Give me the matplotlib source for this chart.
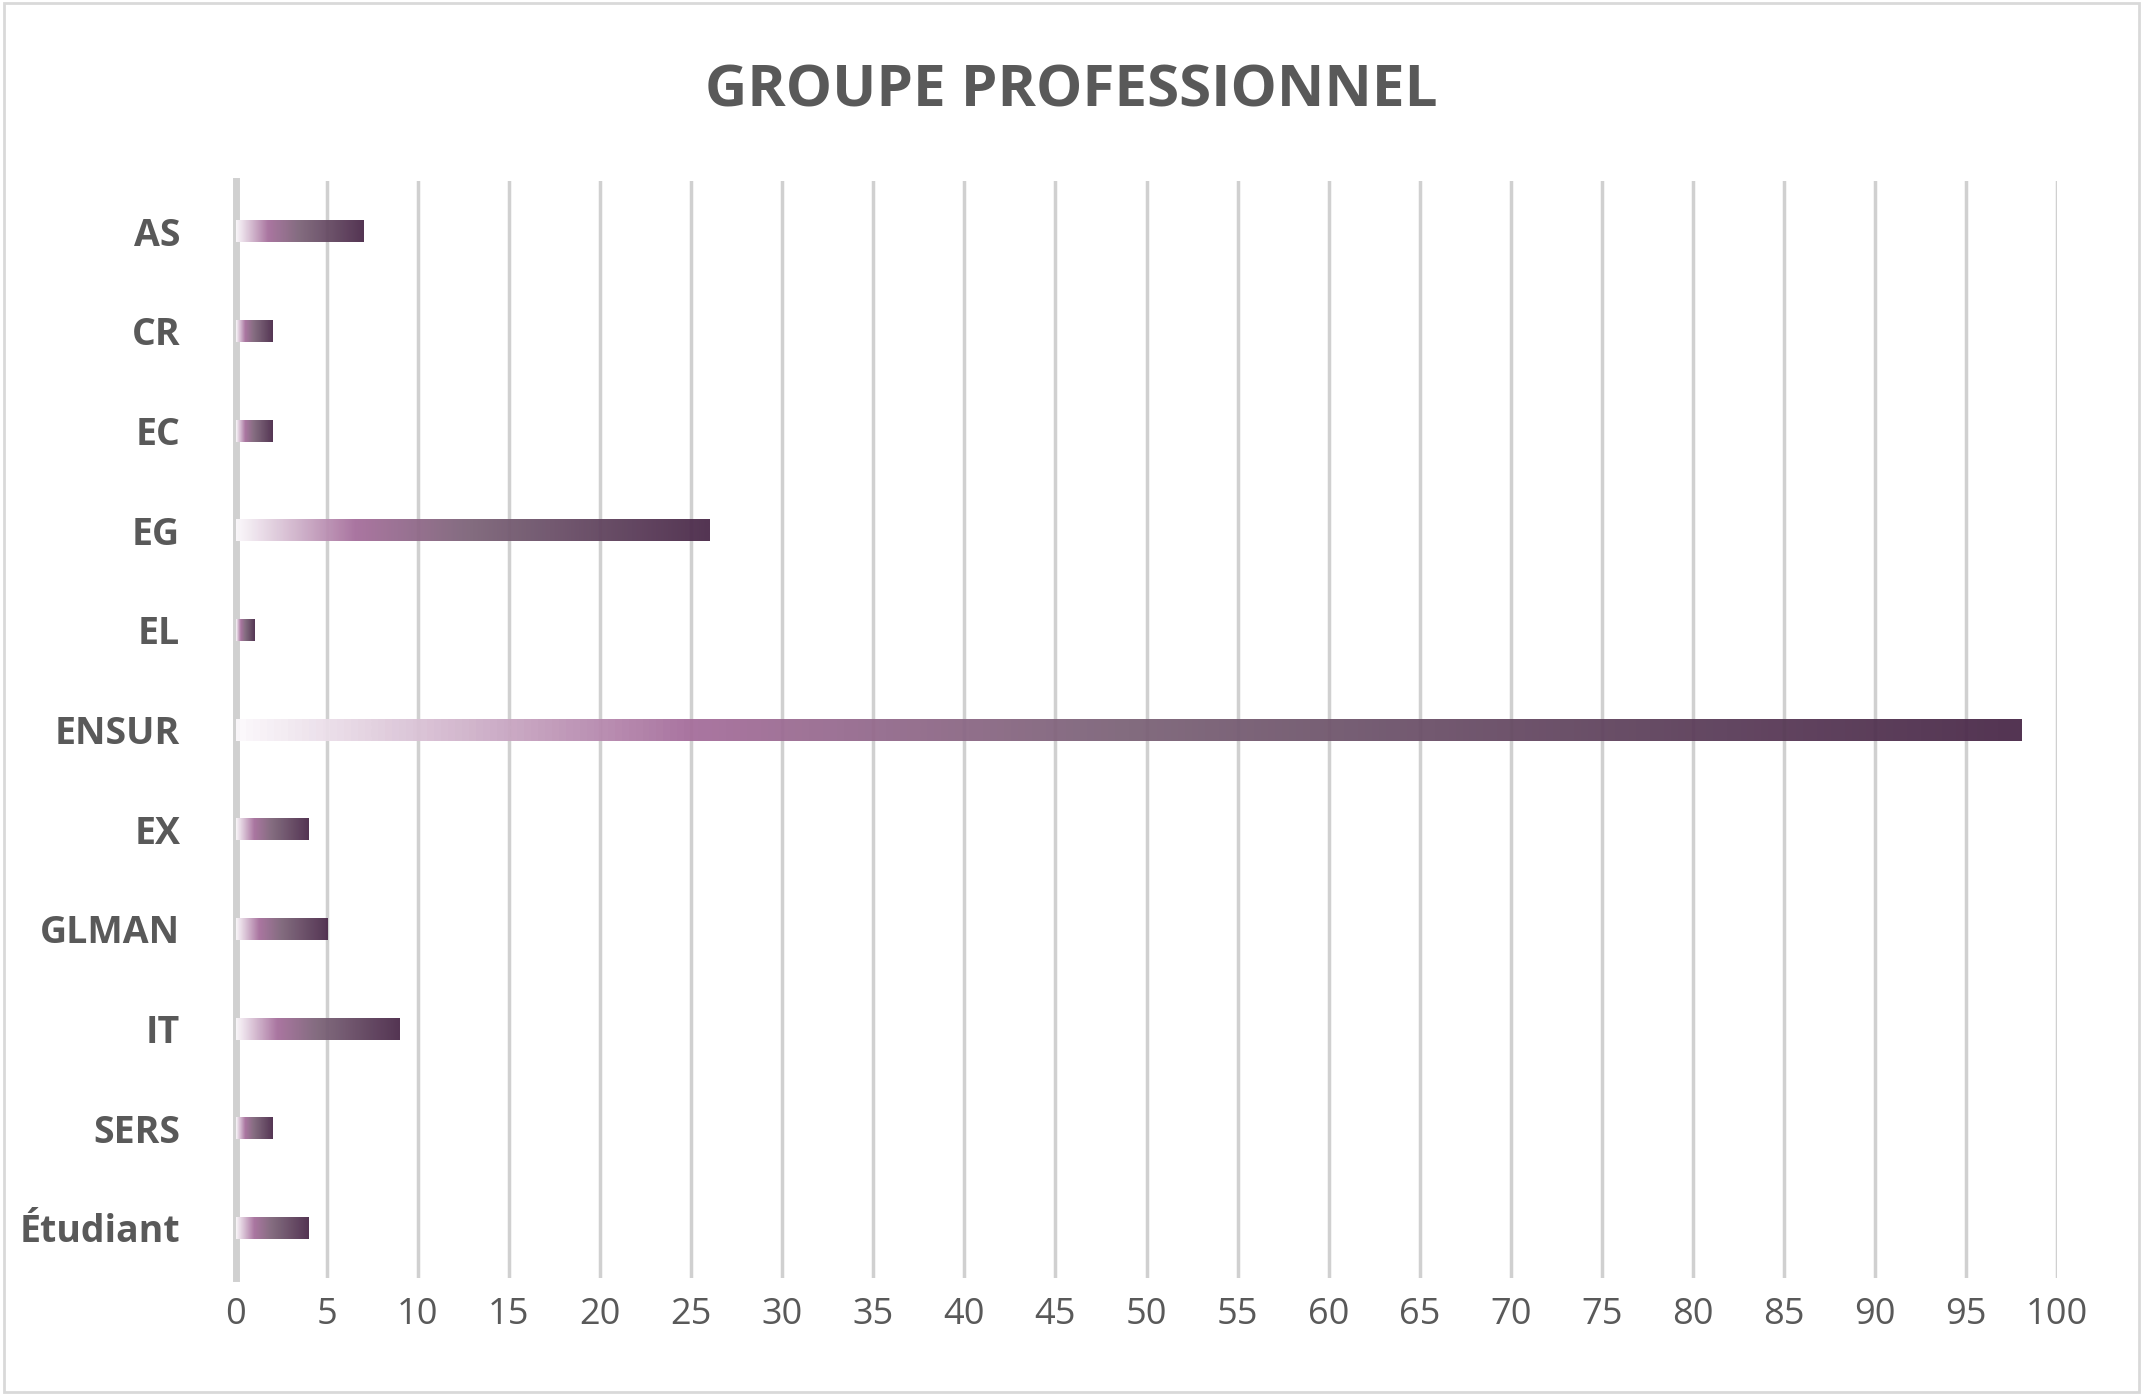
import matplotlib
matplotlib.use("Agg")
import matplotlib.pyplot as plt
import numpy as np
from matplotlib.colors import LinearSegmentedColormap
from matplotlib.patches import Rectangle

categories = ["AS", "CR", "EC", "EG", "EL", "ENSUR", "EX", "GLMAN", "IT", "SERS", "Étudiant"]
values = [7, 2, 2, 26, 1, 98, 4, 5, 9, 2, 4]
xticks = list(range(0, 101, 5))

plt.rcParams['font.family'] = ['Open Sans', 'DejaVu Sans']

cmap = LinearSegmentedColormap.from_list(
    "grad", [(0, "#fbf8fb"), (0.25, "#a66f9c"), (0.5, "#7c6478"), (1, "#4b2a4a")])
grad = np.linspace(0, 1, 256).reshape(1, -1)

fig = plt.figure(figsize=(21.43, 13.95), dpi=100)
fig.patches.append(Rectangle((0.002, 0.002), 0.996, 0.996, transform=fig.transFigure,
                             fill=False, edgecolor="#d9d9d9", linewidth=2))
ax = fig.add_axes([0.110, 0.084, 0.850, 0.786])

y = np.arange(len(categories))
h = 0.22
for yi, v in zip(y, values):
    im = ax.imshow(grad, cmap=cmap, aspect="auto", extent=[0, v, yi - h / 2, yi + h / 2],
                   zorder=3, alpha=0.95, interpolation="bilinear")

ax.set_xlim(0, 100)
ax.set_ylim(len(categories) - 0.5, -0.5)
ax.set_xticks(xticks)
ax.set_yticks(y)
ax.set_yticklabels(categories, fontsize=27, fontweight="bold", color="#595959")
ax.tick_params(axis="x", labelsize=26, labelcolor="#595959", length=0, pad=14)
ax.tick_params(axis="y", length=0, pad=40)
ax.grid(axis="x", color="#d0d0d0", linewidth=2.5, zorder=0)
for s in ["top", "right", "bottom"]:
    ax.spines[s].set_visible(False)
ax.spines["left"].set_color("#d0d0d0")
ax.spines["left"].set_linewidth(5)

fig.suptitle("GROUPE PROFESSIONNEL", y=0.955, fontsize=42, fontweight="bold", color="#595959")
fig.savefig("out.png", dpi=100)
